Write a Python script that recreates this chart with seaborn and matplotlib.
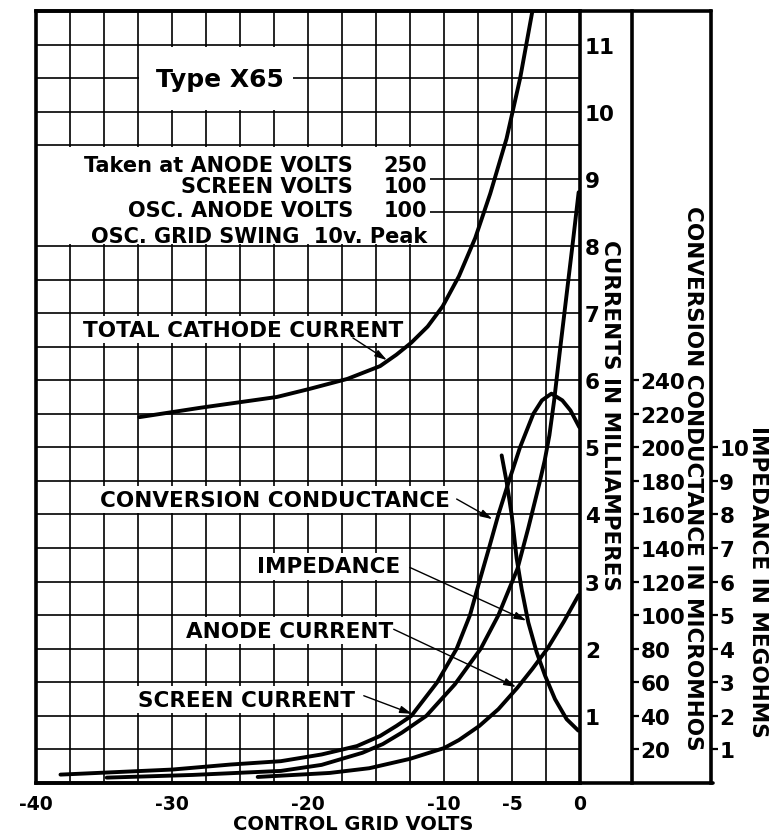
import matplotlib
matplotlib.use("Agg")
import matplotlib.pyplot as plt
from matplotlib.lines import Line2D
from matplotlib.patches import Rectangle
from matplotlib.ticker import MultipleLocator
import seaborn as sns

# ── Curve readings (control grid volts -> value) ──
# currents in mA
cathode_v = [-32.4, -27.9, -22.3, -19.9, -17.1, -14.7, -13.5, -12.4, -11.2,
             -10.1, -8.9, -7.7, -6.6, -5.4, -4.4, -3.5, -3.3]
cathode_ma = [5.45, 5.59, 5.75, 5.87, 6.02, 6.21, 6.38, 6.56, 6.80,
              7.10, 7.55, 8.12, 8.78, 9.60, 10.50, 11.50, 11.75]

screen_v = [-34.8, -28.5, -22.0, -19.0, -16.0, -14.5, -13.1, -11.3, -9.2,
            -7.3, -6.0, -4.6, -3.8, -3.0, -2.6, -2.25, -1.9, -1.5, -1.0,
            -0.5, -0.1]
screen_ma = [0.08, 0.12, 0.18, 0.27, 0.45, 0.58, 0.75, 1.0, 1.47,
             2.0, 2.5, 3.19, 3.8, 4.45, 4.8, 5.18, 5.7, 6.4, 7.25,
             8.1, 8.8]

anode_v = [-23.7, -18.4, -15.5, -12.5, -10.0, -8.9, -7.4, -6.0, -4.6, -3.5,
           -2.4, -1.2, -0.1]
anode_ma = [0.09, 0.15, 0.22, 0.36, 0.52, 0.64, 0.85, 1.1, 1.42, 1.7,
            2.0, 2.4, 2.8]

# conversion conductance in micromhos
conv_v = [-38.2, -30.0, -25.7, -22.0, -19.0, -16.4, -14.7, -13.5, -12.4,
          -10.5, -9.07, -8.09, -7.4, -6.69, -6.0, -5.22, -4.41, -3.43, -2.8,
          -2.1, -1.3, -0.7, -0.05]
conv_umho = [5, 8, 11, 13, 17, 22, 28, 34, 40,
             60, 80, 100, 120, 140, 160, 180, 200, 220, 228,
             232, 228, 222, 212]

# impedance in megohms
imp_v = [-5.76, -5.39, -5.02, -4.66, -4.29, -3.8, -3.19, -2.57, -1.84,
         -0.98, -0.12]
imp_megohm = [9.76, 8.96, 7.98, 6.7, 5.78, 4.78, 3.9, 3.2, 2.5,
              1.9, 1.56]

# ── Axis ticks ──
volt_ticks = [-40, -30, -20, -10, -5, 0]
volt_labels = ["-40", "-30", "-20", "-10", "-5", "0"]
ma_ticks = list(range(1, 12))
umho_ticks = list(range(20, 241, 20))
megohm_ticks = list(range(1, 11))

sns.set_theme(style="white")
plt.rcParams["font.family"] = ["DejaVu Sans"]
plt.rcParams["font.weight"] = "bold"
for key in ["text.color", "axes.labelcolor", "xtick.color", "ytick.color",
            "axes.edgecolor"]:
    plt.rcParams[key] = "black"

W, H = 771, 837
fig = plt.figure(figsize=(W / 100, H / 100), dpi=100)
fig.patch.set_facecolor("white")
ax = fig.add_axes([36 / W, 53 / H, 544 / W, 772 / H])
ax2 = ax.twinx()
ax3 = ax.twinx()

line_kw = dict(color="black", linewidth=2.8, sort=False, estimator=None,
               legend=False)
sns.lineplot(x=cathode_v, y=cathode_ma, ax=ax, **line_kw)
sns.lineplot(x=screen_v, y=screen_ma, ax=ax, **line_kw)
sns.lineplot(x=anode_v, y=anode_ma, ax=ax, **line_kw)
sns.lineplot(x=conv_v, y=conv_umho, ax=ax2, **line_kw)
sns.lineplot(x=imp_v, y=imp_megohm, ax=ax3, **line_kw)
for a in (ax, ax2, ax3):
    a.set_xlabel("")
    a.set_ylabel("")

# ── main grid ──
ax.set_xlim(-40, 0)
ax.set_ylim(0, 11.5)
ax.set_xticks(volt_ticks, labels=volt_labels)
ax.xaxis.set_minor_locator(MultipleLocator(2.5))
ax.set_yticks(ma_ticks)
ax.yaxis.set_minor_locator(MultipleLocator(0.5))
ax.yaxis.tick_right()
ax.set_axisbelow(True)
ax.grid(True, which="both", color="black", linewidth=1.2)
ax.tick_params(axis="x", which="both", length=0, pad=8, labelsize=13.5)
ax.tick_params(axis="y", which="both", length=0, pad=3.5, labelsize=15.5)
for s in ax.spines.values():
    s.set_visible(True)
    s.set_color("black")
    s.set_linewidth(2.6)

# ── secondary scales ──
ax2.set_ylim(0, 11.5 * 40)
ax2.set_yticks(umho_ticks)
ax3.set_ylim(0, 11.5 * 2)
ax3.set_yticks(megohm_ticks)
for a, xpos in ((ax2, (632 - 36) / 544), (ax3, (711 - 36) / 544)):
    a.grid(False)
    for side in ("left", "top", "bottom"):
        a.spines[side].set_visible(False)
    a.spines["right"].set_position(("axes", xpos))
    a.spines["right"].set_linewidth(2.6)
    a.spines["right"].set_color("black")
    a.tick_params(axis="y", direction="out", length=5, width=1.6, pad=1,
                  labelsize=15.5)

# frame continues over the side scales
fig.add_artist(Line2D([36 / W, 711 / W], [1 - 12 / H, 1 - 12 / H],
                      color="black", linewidth=2.6))
fig.add_artist(Line2D([36 / W, 713 / W], [53 / H, 53 / H],
                      color="black", linewidth=2.6))

# ── headings and notes ──
ax.add_patch(Rectangle((-32.4, 10.03), 11.3, 0.94, facecolor="white",
                       edgecolor="none", zorder=1))
ax.text(-26.5, 10.38, "Type X65", fontsize=18, ha="center", va="baseline")

ax.add_patch(Rectangle((-40, 8.03), 29.0, 1.44, facecolor="white",
                       edgecolor="none", zorder=1))
note_rows = [("Taken at ANODE VOLTS", "250", 9.12),
             ("SCREEN VOLTS", "100", 8.81),
             ("OSC. ANODE VOLTS", "100", 8.45)]
for label, value, y in note_rows:
    ax.text(-16.7, y, label, fontsize=15, ha="right", va="baseline")
    ax.text(-11.25, y, value, fontsize=15, ha="right", va="baseline")
ax.text(-11.25, 8.06, "OSC. GRID SWING  10v. Peak", fontsize=15, ha="right",
        va="baseline")

# curve labels: (text, right end x, baseline y, arrow tail, arrow tip)
curve_labels = [
    ("TOTAL CATHODE CURRENT", -13.0, 6.66, (-16.7, 6.63), (-14.2, 6.30)),
    ("CONVERSION CONDUCTANCE", -9.56, 4.13, (-9.07, 4.23), (-6.45, 3.93)),
    ("IMPEDANCE", -13.24, 3.14, (-12.5, 3.21), (-3.95, 2.42)),
    ("ANODE CURRENT", -13.75, 2.18, (-13.7, 2.29), (-4.7, 1.43)),
    ("SCREEN CURRENT", -16.54, 1.15, (-15.9, 1.30), (-12.35, 1.03)),
]
box = dict(facecolor="white", edgecolor="none", pad=2.5)
for text, xr, yb, tail, tip in curve_labels:
    ax.text(xr, yb, text, fontsize=15.5, ha="right", va="baseline", bbox=box)
    ax.annotate("", xy=tip, xytext=tail,
                arrowprops=dict(arrowstyle="-|>,head_length=0.6,head_width=0.18",
                                color="black", lw=1.0, shrinkA=0, shrinkB=0))

# axis titles
ax.text(0.583, -0.053, "CONTROL GRID VOLTS", transform=ax.transAxes,
        fontsize=14, ha="center", va="center")
ax.text(1.055, 0.4767, "CURRENTS IN MILLIAMPERES", transform=ax.transAxes,
        fontsize=15.5, rotation=-90, ha="center", va="center")
ax.text(1.2077, 0.396, "CONVERSION CONDUCTANCE IN MICROMHOS",
        transform=ax.transAxes, fontsize=15.5, rotation=-90, ha="center",
        va="center")
ax.text(1.327, 0.2617, "IMPEDANCE IN MEGOHMS", transform=ax.transAxes,
        fontsize=15.5, rotation=-90, ha="center", va="center")

fig.savefig("out.png", dpi=100)
